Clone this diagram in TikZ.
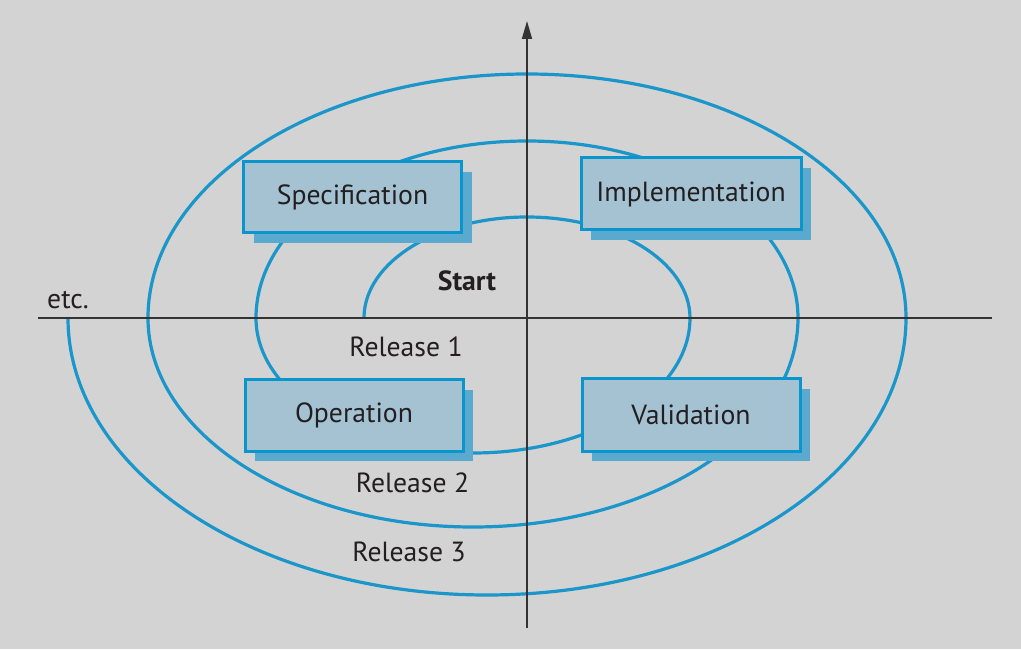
\documentclass[tikz,border=0pt]{standalone}
\usepackage{fontspec}
\setmainfont{PT Sans}
\usetikzlibrary{arrows.meta}
\definecolor{bg}{HTML}{D3D3D3}
\definecolor{boxfill}{HTML}{A4C2D2}
\definecolor{boxline}{HTML}{0A96CC}
\definecolor{shadowc}{HTML}{5AAAD0}
\definecolor{spiralc}{HTML}{1A96CA}
\definecolor{axisc}{HTML}{333333}
\definecolor{txt}{HTML}{231F20}
\begin{document}
\begin{tikzpicture}[x=1pt,y=1pt,
  phase/.style={draw=boxline, line width=3pt, fill=boxfill, minimum width=218pt, minimum height=71pt,
    inner sep=0pt, text=txt, font=\fontsize{27.7}{32}\selectfont},
  shadowbox/.style={fill=shadowc, minimum width=218pt, minimum height=71pt, inner sep=0pt},
  lbl/.style={text=txt, font=\fontsize{27.7}{32}\selectfont, inner sep=0pt},
  spiral/.style={draw=spiralc, line width=3.2pt},
  axis/.style={draw=axisc, line width=1.6pt}]
\fill[bg] (0,0) rectangle (1021,649);
\useasboundingbox (0,0) rectangle (1021,649);
% spiral
\draw[spiral] (364,331)
  arc[start angle=180, end angle=0, x radius=163pt, y radius=101pt]
  arc[start angle=0, end angle=-180, x radius=217pt, y radius=135pt]
  arc[start angle=180, end angle=0, x radius=271pt, y radius=177pt]
  arc[start angle=0, end angle=-180, x radius=325pt, y radius=209pt]
  arc[start angle=180, end angle=0, x radius=379pt, y radius=244pt]
  arc[start angle=0, end angle=-180, x radius=419pt, y radius=277pt];
% axes
\coordinate (xl) at (38,331);
\coordinate (xr) at (992,331);
\coordinate (yb) at (527,21);
\coordinate (yt) at (527,628);
\draw[axis] (xl) -- (xr);
\draw[axis, -{Triangle[length=18pt,width=10pt]}] (yb) -- (yt);
% shadows
\node[shadowbox] (specS) at (362.5,441.5) {};
\node[shadowbox, minimum width=220pt, minimum height=72pt] (implS) at (701,445) {};
\node[shadowbox] (operS) at (364,223.5) {};
\node[shadowbox, minimum height=72pt] (valS) at (701,224) {};
% boxes
\node[phase] (spec) at (352.5,451.5) {Specification};
\node[phase, minimum width=220pt, minimum height=72pt] (impl) at (691,455) {Implementation};
\node[phase] (oper) at (354,233.5) {Operation};
\node[phase, minimum height=72pt] (val) at (691,234) {Validation};
% labels
\node[lbl, font=\fontsize{27.7}{32}\selectfont\bfseries] (start) at (467,368) {Start};
\node[lbl] (r1) at (406,302.5) {Release 1};
\node[lbl] (r2) at (412.5,166) {Release 2};
\node[lbl] (r3) at (409,97.5) {Release 3};
\node[lbl] (etc) at (68,349) {etc.};
\end{tikzpicture}
\end{document}
